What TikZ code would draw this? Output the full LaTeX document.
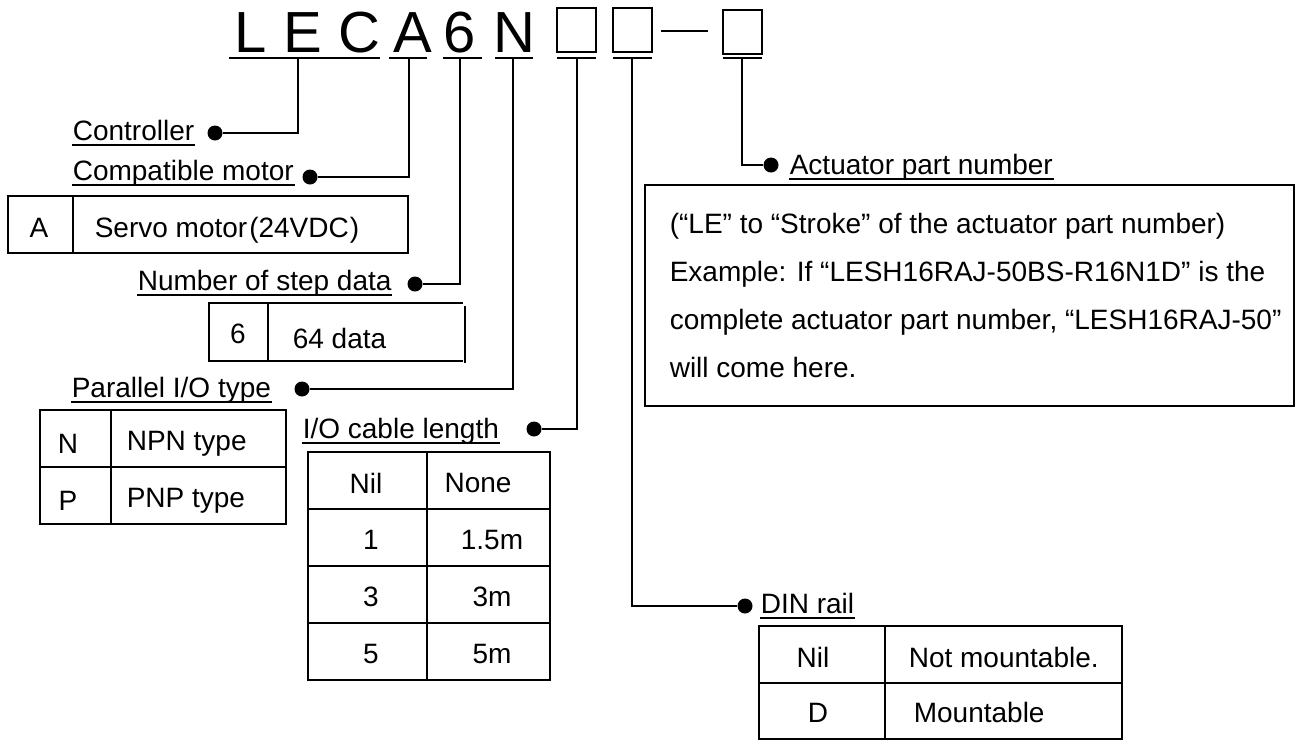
\documentclass[tikz,border=0pt]{standalone}
\usepackage{fontspec}
\setmainfont{Liberation Sans}
\begin{document}
\begin{tikzpicture}[x=1pt,y=-1pt, line width=1.6pt,
  lbl/.style={anchor=base west, inner sep=0pt, font=\fontsize{28}{34}\selectfont},
  ttl/.style={anchor=base, inner sep=0pt, font=\fontsize{58}{64}\selectfont},
  cell/.style={anchor=base, inner sep=0pt, font=\fontsize{28}{34}\selectfont},
  dotn/.style={circle, fill, inner sep=0pt, minimum size=15pt},
  ubox/.style={draw, line width=2pt, inner sep=0pt, minimum width=39pt, minimum height=44pt},
  uline/.style={line width=2pt}]
\useasboundingbox (0,0) rectangle (1295,740);

% ---- title ----
\node[ttl] (tL) at (251,52) {L};
\node[ttl] (tE) at (303,52) {E};
\node[ttl] (tC) at (359,52) {C};
\node[ttl] (tA) at (413,52) {A};
\node[ttl] (t6) at (460,52) {6};
\node[ttl] (tN) at (514,52) {N};
\node[ubox] (b1) at (576.5,30) {};
\node[ubox] (b2) at (632.5,30) {};
\node[ubox] (b3) at (742.5,31.5) {};
\coordinate (dashL) at (661,31);
\coordinate (dashR) at (708,31);
\draw[uline] (dashL) -- (dashR);

% title underlines
\draw[uline] (229,58) -- (380,58);
\draw[uline] (389,58) -- (427,58);
\draw[uline] (443,58) -- (482,58);
\draw[uline] (495,58) -- (533,58);
\draw[uline] (557,58) -- (596,58);
\draw[uline] (613,58) -- (652,58);
\draw[uline] (723,58) -- (762,58);

% tick tops
\coordinate (kLEC) at (298,58);
\coordinate (kA) at (409,58);
\coordinate (k6) at (460,58);
\coordinate (kN) at (513,58);
\coordinate (kB1) at (577,58);
\coordinate (kB2) at (632,58);
\coordinate (kB3) at (742,58);

% ---- labels ----
\node[lbl] (lCtrl) at (72,140) {Controller};
\node[lbl] (lMot) at (72,180) {Compatible motor};
\node[lbl] (lStep) at (137,290) {Number of step data};
\node[lbl] (lPio) at (71,397) {Parallel I/O type};
\node[lbl] (lCab) at (302,438) {I/O cable length};
\node[lbl] (lAct) at (789,174) {Actuator part number};
\node[lbl] (lDin) at (760,613) {DIN rail};
\foreach \n in {lCtrl,lMot,lStep,lPio,lCab,lAct,lDin}
  \draw[uline] ([yshift=-4.5pt]\n.base west) -- ([yshift=-4.5pt]\n.base east);

% ---- dots and connectors ----
\node[dotn] (dCtrl) at (215,133) {};
\node[dotn] (dMot) at (310,177) {};
\node[dotn] (dStep) at (415,284) {};
\node[dotn] (dPio) at (302,389) {};
\node[dotn] (dCab) at (534,429) {};
\node[dotn] (dAct) at (771,165) {};
\node[dotn] (dDin) at (745,606) {};
\draw (dCtrl) -| (kLEC);
\draw (dMot) -| (kA);
\draw (dStep) -| (k6);
\draw (dPio) -| (kN);
\draw (dCab) -| (kB1);
\draw (kB2) |- (dDin);
\draw (kB3) |- (dAct);

% ---- motor table ----
\draw (8,196) rectangle (408,253);
\draw (73,196) -- (73,253);
\node[cell] (cA) at (39,237) {A};
\node[lbl] (cServo) at (94,237) {Servo motor\kern2pt(24VDC\kern1pt)};

% ---- step data table ----
\draw (463,303) -- (209,303) -- (209,361) -- (463,361);
\draw (268,303) -- (268,361);
\draw (465,306) -- (465,363);
\node[cell] (c6) at (238,343) {6};
\node[lbl] (c64) at (292,348) {64 data};

% ---- parallel I/O table ----
\draw (40,410) rectangle (286,524);
\draw (111,410) -- (111,524);
\draw (40,467) -- (286,467);
\node[cell] (cN) at (68,453) {N};
\node[lbl] (cNPN) at (126,450) {NPN type};
\node[cell] (cP) at (68,510) {P};
\node[lbl] (cPNP) at (126,507) {PNP type};

% ---- cable table ----
\draw (308,452) rectangle (550,680);
\draw (427,452) -- (427,680);
\foreach \yy in {509,566,623} \draw (308,\yy) -- (550,\yy);
\node[cell] (cNil) at (366,493) {Nil};
\node[cell] (cNone) at (478,492) {None};
\node[cell] (c1) at (371,549) {1};
\node[cell] (c15) at (492,549) {1.5m};
\node[cell] (c3) at (371,606) {3};
\node[cell] (c3m) at (492,606) {3m};
\node[cell] (c5) at (371,663) {5};
\node[cell] (c5m) at (492,663) {5m};

% ---- actuator box ----
\draw (645,185) rectangle (1294,406);
\node[lbl] (a1) at (669,233) {(“LE” to “Stroke” of the actuator part number)};
\node[lbl] (a2) at (669,281) {Example: If “LESH16RAJ-50BS-R16N1D” is the};
\node[lbl] (a3) at (669,329) {complete actuator part number, “LESH16RAJ-50”};
\node[lbl] (a4) at (669,377) {will come here.};

% ---- DIN table ----
\draw (759,739) -- (759,626) -- (1122,626) -- (1122,739) -- cycle;
\draw (885,626) -- (885,739);
\draw (759,683) -- (1122,683);
\node[cell] (dNil) at (813,667) {Nil};
\node[lbl] (dNot) at (908,667) {Not mountable.};
\node[cell] (dD) at (818,722) {D};
\node[lbl] (dMnt) at (913,722) {Mountable};
\end{tikzpicture}
\end{document}
